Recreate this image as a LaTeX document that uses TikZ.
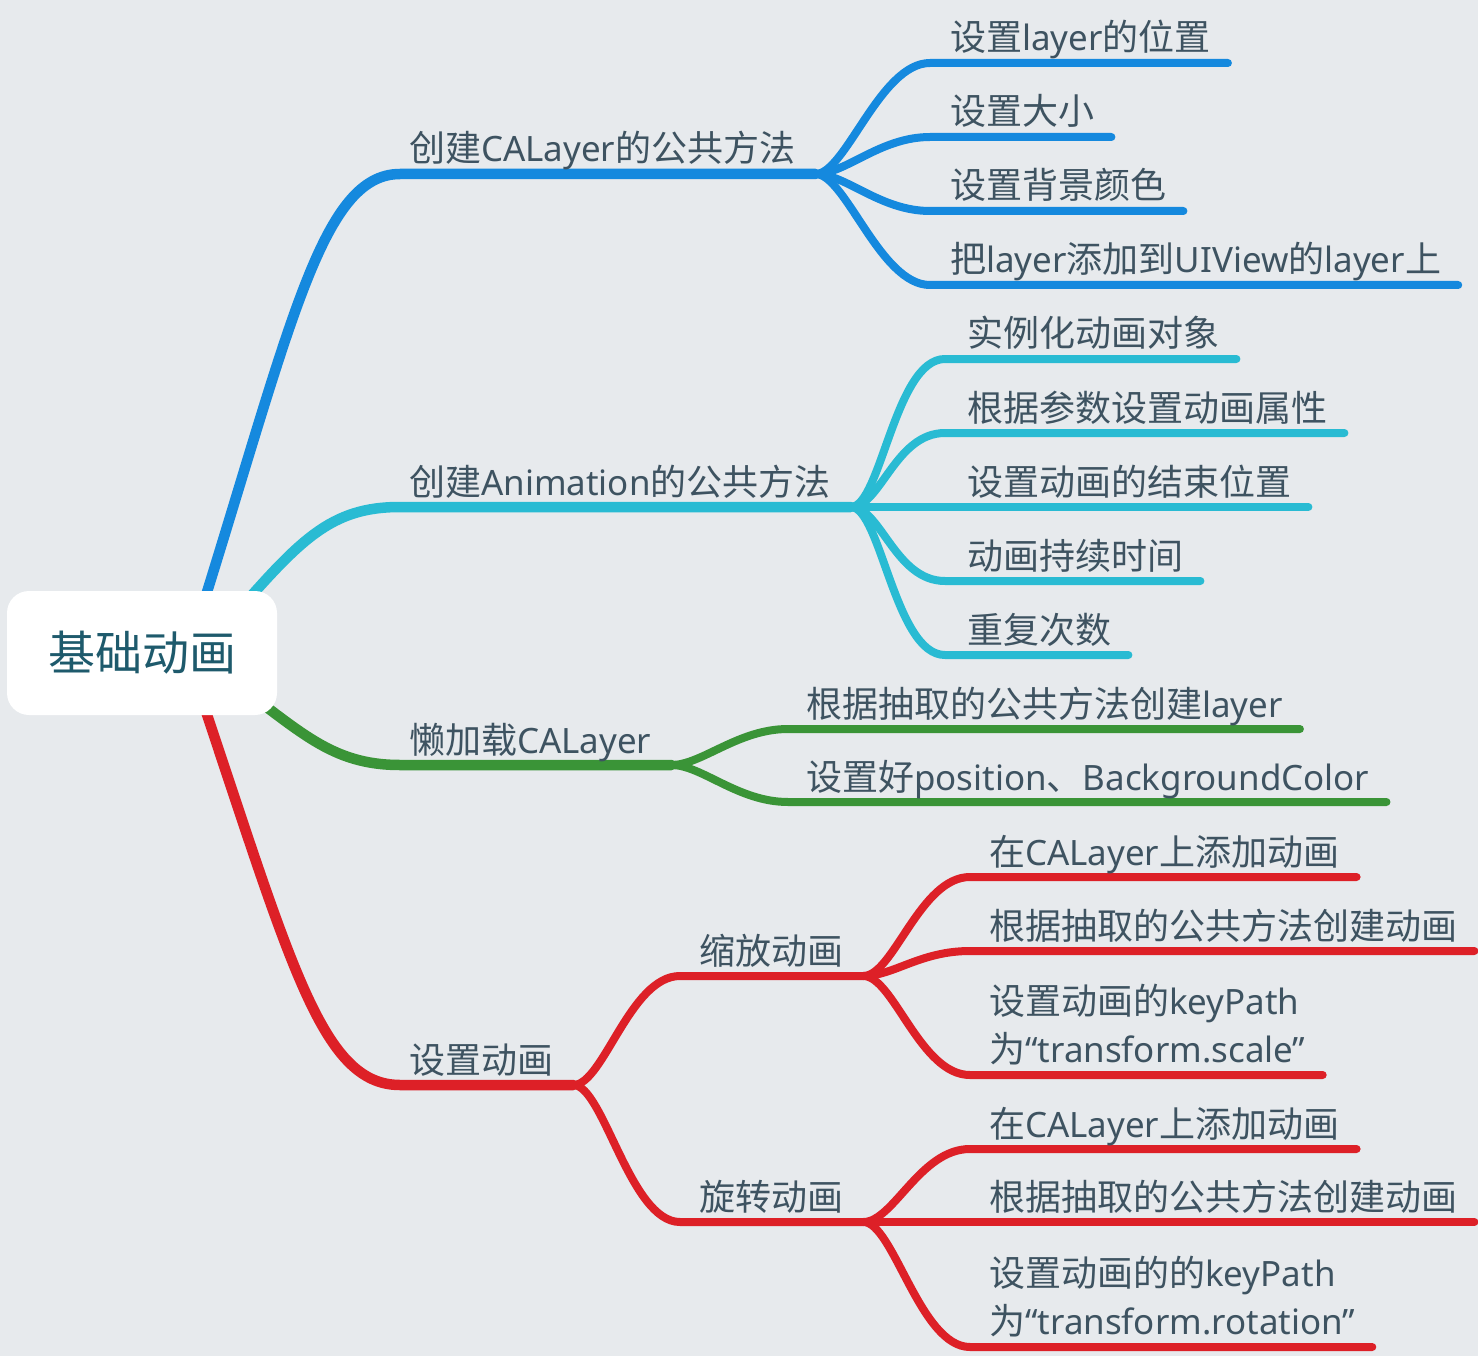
\documentclass[tikz,border=0pt]{standalone}
\usepackage{fontspec}
\setmainfont{Noto Sans CJK SC}
\newfontfamily\latinfont[Scale=0.97]{Noto Sans}
\newcommand{\en}[1]{{\latinfont #1}}
\usepackage{tikz}
\usetikzlibrary{calc, backgrounds}
\usepackage{xcolor}
\definecolor{MapPaper}{HTML}{E7EAED}
\definecolor{MapText}{HTML}{3E5361}
\definecolor{MapRootText}{HTML}{1E5A6C}
\definecolor{MapBlue}{HTML}{1589DE}
\definecolor{MapCyan}{HTML}{29BBD3}
\definecolor{MapGreen}{HTML}{3A9437}
\definecolor{MapRed}{HTML}{DD2027}
\tikzset{
    % Topic styles
    rootbox/.style={
        rectangle,
        rounded corners=22pt,
        fill=white,
        draw=none,
        minimum width=270pt,
        minimum height=124pt,
        text=MapRootText,
        font=\fontsize{47}{56}\selectfont
    },
    topic/.style={
        anchor=base west,
        inner sep=0pt,
        text=MapText,
        font=\fontsize{36}{48}\selectfont
    },
    twolines/.style={
        topic,
        anchor=south west,
        align=left
    },
    % Branch styles
    branch/.style={
        line width=10.5pt,
        line cap=round,
        line join=round
    },
    twig/.style={
        line width=8pt,
        line cap=round,
        line join=round
    }
}

\begin{document}
\begin{tikzpicture}[x=1pt,y=-1pt]
    \useasboundingbox (0,0) rectangle (1478,1356);

    % Central topic
    \node[rootbox] (root) at (142,653) {基础动画};

    % Main topics
    \node[topic] (calayer) at (409,162) {创建\en{CALayer}的公共方法};
    \node[topic] (anim) at (409,495) {创建\en{Animation}的公共方法};
    \node[topic] (lazy) at (409,753) {懒加载\en{CALayer}};
    \node[topic] (setanim) at (409,1073) {设置动画};

    % CALayer subtopics
    \node[topic] (pos) at (950,51) {设置\en{layer}的位置};
    \node[topic] (size) at (950,125) {设置大小};
    \node[topic] (bgcolor) at (950,199) {设置背景颜色};
    \node[topic] (addlayer) at (950,273) {把\en{layer}添加到\en{UIView}的\en{layer}上};

    % Animation subtopics
    \node[topic] (inst) at (967,347) {实例化动画对象};
    \node[topic] (attr) at (967,421) {根据参数设置动画属性};
    \node[topic] (endpos) at (967,495) {设置动画的结束位置};
    \node[topic] (dur) at (967,569) {动画持续时间};
    \node[topic] (rep) at (967,643) {重复次数};

    % Lazy loading subtopics
    \node[topic] (create) at (806,717) {根据抽取的公共方法创建\en{layer}};
    \node[topic] (setpos) at (806,790) {设置好\en{position}、\en{BackgroundColor}};

    % Animation kinds
    \node[topic] (scale) at (699,964) {缩放动画};
    \node[topic] (rotate) at (699,1210) {旋转动画};

    % Scale subtopics
    \node[topic] (sadd) at (989,865) {在\en{CALayer}上添加动画};
    \node[topic] (screate) at (989,939) {根据抽取的公共方法创建动画};
    \node[twolines] (skey) at (989,1065) {设置动画的\en{keyPath}\\为\en{“transform.scale”}};

    % Rotation subtopics
    \node[topic] (radd) at (989,1137) {在\en{CALayer}上添加动画};
    \node[topic] (rcreate) at (989,1210) {根据抽取的公共方法创建动画};
    \node[twolines] (rkey) at (989,1337) {设置动画的的\en{keyPath}\\为\en{“transform.rotation”}};

    % Junctions
    \coordinate (jblue) at ($(calayer.base east)+(20,12)$);
    \coordinate (jcyan) at ($(anim.base east)+(20,12)$);
    \coordinate (jgreen) at ($(lazy.base east)+(20,12)$);
    \coordinate (jred) at ($(setanim.base east)+(20,12)$);
    \coordinate (jscale) at ($(scale.base east)+(20,12)$);
    \coordinate (jrotate) at ($(rotate.base east)+(20,12)$);

    \begin{scope}[on background layer]
        \fill[MapPaper] (0,0) rectangle (1478,1356);

        % Main branches
        \draw[branch,MapBlue] ($(root.center)+(50,-13)$) .. controls +(98,-310) and +(-80,0) .. ($(calayer.base west)+(-9,12)$) -- (jblue);
        \draw[branch,MapCyan] ($(root.center)+(88,-33)$) .. controls +(70,-80) and +(-70,0) .. ($(anim.base west)+(-9,12)$) -- (jcyan);
        \draw[branch,MapGreen] ($(root.center)+(88,27)$) .. controls +(70,50) and +(-70,0) .. ($(lazy.base west)+(-9,12)$) -- (jgreen);
        \draw[branch,MapRed] ($(root.center)+(50,17)$) .. controls +(98,290) and +(-80,0) .. ($(setanim.base west)+(-9,12)$) -- (jred);

        % Subtopic branches
        \foreach \t in {pos,size,bgcolor,addlayer}
            \draw[twig,MapBlue] (jblue) .. controls +(30,0) and +(-50,0) .. ($(\t.base west)+(-20,12)$) -- ($(\t.base east)+(17,12)$);
        \foreach \t in {inst,attr,endpos,dur,rep}
            \draw[twig,MapCyan] (jcyan) .. controls +(30,0) and +(-50,0) .. ($(\t.base west)+(-22,12)$) -- ($(\t.base east)+(17,12)$);
        \foreach \t in {create,setpos}
            \draw[twig,MapGreen] (jgreen) .. controls +(30,0) and +(-50,0) .. ($(\t.base west)+(-18,12)$) -- ($(\t.base east)+(17,12)$);
        \foreach \t in {scale,rotate}
            \draw[twig,MapRed] (jred) .. controls +(30,0) and +(-50,0) .. ($(\t.base west)+(-19,12)$) -- (j\t);
        \foreach \t in {sadd,screate}
            \draw[twig,MapRed] (jscale) .. controls +(30,0) and +(-50,0) .. ($(\t.base west)+(-19,12)$) -- ($(\t.base east)+(17,12)$);
        \foreach \t in {radd,rcreate}
            \draw[twig,MapRed] (jrotate) .. controls +(30,0) and +(-50,0) .. ($(\t.base west)+(-19,12)$) -- ($(\t.base east)+(17,12)$);
        \draw[twig,MapRed] (jscale) .. controls +(30,0) and +(-50,0) .. ($(skey.south west)+(-19,10)$) -- ($(skey.south east)+(17,10)$);
        \draw[twig,MapRed] (jrotate) .. controls +(30,0) and +(-50,0) .. ($(rkey.south west)+(-19,10)$) -- ($(rkey.south east)+(17,10)$);
    \end{scope}
\end{tikzpicture}
\end{document}
